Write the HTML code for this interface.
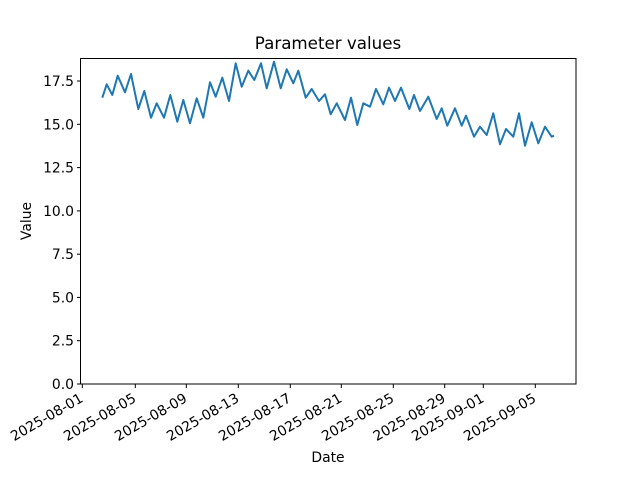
<!DOCTYPE html>
<html><head><meta charset="utf-8"><style>html,body{margin:0;padding:0;background:#fff}svg{display:block}</style></head>
<body>
<svg width="640" height="480" viewBox="0 0 640 480" xmlns="http://www.w3.org/2000/svg" font-family="DejaVu Sans, Liberation Sans, sans-serif" font-size="13.9">
<rect width="640" height="480" fill="#fff"/>
<text x="328" y="49" font-size="16.7" text-anchor="middle">Parameter values</text>
<polyline fill="none" stroke="#1f77b4" stroke-width="2" stroke-linejoin="round" points="102.3,97.7 106.7,84.3 112.3,95 117.7,75.7 125,92.3 131,74 138.3,109 144.3,91 151,117.7 156.7,103.3 164,117.7 170.3,95 177.3,121.7 183.3,100 190,123.3 196.7,98.3 203.3,117.7 210,82.3 215.7,96.7 222.3,77.7 229,101 235.7,63.3 241.7,86.7 248.3,70.7 254.3,80 261,63.3 266.7,88.3 274,61.7 280.7,88.3 286.7,69.3 293.3,83.3 298.3,70.7 305.7,97.7 311.7,89 319,101 325,94.3 330.7,114.3 336.7,103.3 345,120 351,97.7 357.3,125 363.3,103.3 370,106.7 376,89 383.3,104.3 389,87.7 395,101 401,87.7 409.3,109 414,95 420,111 428.3,96.7 436.7,119 441.7,108.3 447.3,125.7 455,108.3 461.7,125.7 466,115.7 474,136.7 480,126.7 486.7,135 493.3,113.3 500,144.3 506,129 513.3,136.7 519,113.3 525,145.7 531.7,122.3 538.3,143.3 545,126.7 551.7,136.7 554,135.7"/>
<rect x="80.5" y="58.5" width="495.5" height="325.5" fill="none" stroke="#000" stroke-width="1"/>
<g stroke="#000" stroke-width="1">
<line x1="80.5" x2="77" y1="384" y2="384"/><line x1="80.5" x2="77" y1="340.7" y2="340.7"/><line x1="80.5" x2="77" y1="297.4" y2="297.4"/><line x1="80.5" x2="77" y1="254.2" y2="254.2"/><line x1="80.5" x2="77" y1="210.9" y2="210.9"/><line x1="80.5" x2="77" y1="167.6" y2="167.6"/><line x1="80.5" x2="77" y1="124.3" y2="124.3"/><line x1="80.5" x2="77" y1="81" y2="81"/>
<line x1="82.3" x2="82.3" y1="384" y2="388"/><line x1="135.3" x2="135.3" y1="384" y2="388"/><line x1="186.3" x2="186.3" y1="384" y2="388"/><line x1="238.3" x2="238.3" y1="384" y2="388"/><line x1="290.3" x2="290.3" y1="384" y2="388"/><line x1="341.3" x2="341.3" y1="384" y2="388"/><line x1="393.3" x2="393.3" y1="384" y2="388"/><line x1="444.7" x2="444.7" y1="384" y2="388"/><line x1="483.3" x2="483.3" y1="384" y2="388"/><line x1="535.3" x2="535.3" y1="384" y2="388"/>
</g>
<g text-anchor="end">
<text x="74" y="389">0.0</text><text x="74" y="345.7">2.5</text><text x="74" y="302.4">5.0</text><text x="74" y="259.2">7.5</text><text x="74" y="215.9">10.0</text><text x="74" y="172.6">12.5</text><text x="74" y="129.3">15.0</text><text x="74" y="86">17.5</text>
</g>
<g text-anchor="end">
<text transform="translate(84,401) rotate(-30)">2025-08-01</text>
<text transform="translate(137,401) rotate(-30)">2025-08-05</text>
<text transform="translate(188,401) rotate(-30)">2025-08-09</text>
<text transform="translate(240,401) rotate(-30)">2025-08-13</text>
<text transform="translate(292,401) rotate(-30)">2025-08-17</text>
<text transform="translate(343,401) rotate(-30)">2025-08-21</text>
<text transform="translate(395,401) rotate(-30)">2025-08-25</text>
<text transform="translate(446.5,401) rotate(-30)">2025-08-29</text>
<text transform="translate(485,401) rotate(-30)">2025-09-01</text>
<text transform="translate(537,401) rotate(-30)">2025-09-05</text>
</g>
<text x="328" y="462" text-anchor="middle">Date</text>
<text transform="translate(31,221) rotate(-90)" text-anchor="middle">Value</text>
</svg>
</body></html>
